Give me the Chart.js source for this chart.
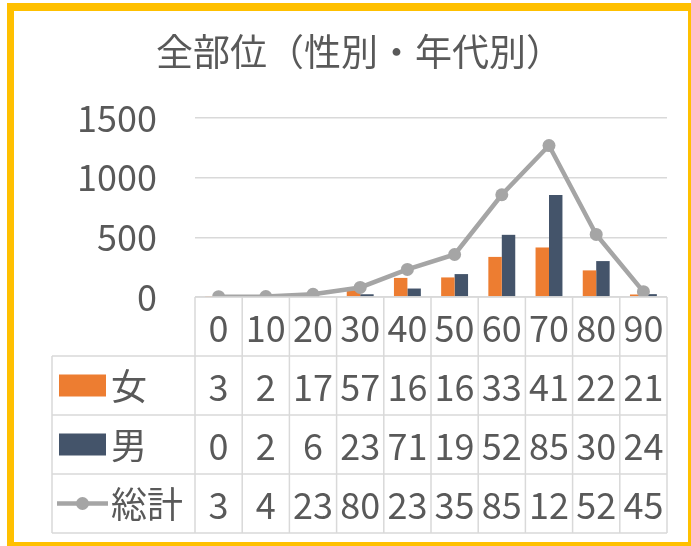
<!DOCTYPE html>
<html>
<head>
<meta charset="utf-8">
<script src="https://cdn.jsdelivr.net/npm/chart.js@4"></script>
<style>
  html, body { margin: 0; padding: 0; background: #fff; }
  #frame {
    position: absolute; left: 7px; top: 3px; width: 684px; height: 543px;
    box-sizing: border-box; border-style: solid; border-color: #FFC000;
    border-width: 8px 3px 4px 7px;
  }
  #chart { position: absolute; left: 0; top: 0; }
</style>
</head>
<body>
<div id="frame"></div>
<canvas id="chart" width="691" height="546"></canvas>
<script>
// data
const chartTitle = '全部位（性別・年代別）';
const ageGroups = ['0', '10', '20', '30', '40', '50', '60', '70', '80', '90'];
const femaleCounts = [3, 2, 17, 57, 160, 164, 336, 415, 223, 21];
const maleCounts = [0, 2, 6, 23, 71, 192, 521, 854, 301, 24];
const totalCounts = [3, 4, 23, 80, 231, 356, 857, 1269, 524, 45];
const yTicks = [0, 500, 1000, 1500];

const TEXT = '#595959';
const GRID = '#D9D9D9';
const FONT = "'Noto Sans CJK JP', 'Noto Sans', sans-serif";

Chart.defaults.font.family = FONT;
Chart.defaults.color = TEXT;

// title drawn by hand so it can sit a bit right of the canvas centre, like the original
const titleText = {
    id: 'titleText',
    afterDraw(chart) {
        const { ctx } = chart;
        ctx.save();
        ctx.fillStyle = TEXT;
        ctx.font = '37px ' + FONT;
        ctx.textAlign = 'left';
        ctx.textBaseline = 'middle';
        ctx.fillText(chartTitle, 156, 52);
        ctx.restore();
    }
};

// data table under the plot (Excel style), columns follow the x scale
const dataTable = {
    id: 'dataTable',
    afterDraw(chart) {
        const { ctx, chartArea: { left, right, bottom }, scales: { x } } = chart;
        const rowH = 59;
        const colW = (right - left) / ageGroups.length;
        const tableLeft = 52;
        const rows = chart.data.datasets;

        ctx.save();
        ctx.strokeStyle = GRID;
        ctx.lineWidth = 1.5;
        ctx.beginPath();
        ctx.moveTo(left, bottom); ctx.lineTo(right, bottom);
        for (let k = 1; k <= 4; k++) {
            ctx.moveTo(tableLeft, bottom + rowH * k);
            ctx.lineTo(right, bottom + rowH * k);
        }
        for (let i = 0; i <= ageGroups.length; i++) {
            ctx.moveTo(left + colW * i, bottom);
            ctx.lineTo(left + colW * i, bottom + rowH * 4);
        }
        ctx.moveTo(tableLeft, bottom + rowH);
        ctx.lineTo(tableLeft, bottom + rowH * 4);
        ctx.stroke();

        ctx.fillStyle = TEXT;
        ctx.font = '36px ' + FONT;
        ctx.textAlign = 'center';
        ctx.textBaseline = 'middle';
        ageGroups.forEach((lab, i) => {
            ctx.fillText(lab, x.getPixelForValue(i), bottom + rowH / 2 + 2);
        });

        rows.forEach((ds, r) => {
            const cy = bottom + rowH * (r + 1.5);
            ctx.textAlign = 'center';
            ctx.fillStyle = TEXT;
            ds.data.forEach((v, i) => {
                // cells are too narrow, only the first two characters show
                ctx.fillText(String(v).slice(0, 2), x.getPixelForValue(i), cy + 2);
            });
            // legend key
            if (ds.type === 'line') {
                ctx.strokeStyle = ds.borderColor;
                ctx.lineWidth = ds.borderWidth;
                ctx.beginPath();
                ctx.moveTo(57, cy); ctx.lineTo(108, cy);
                ctx.stroke();
                ctx.fillStyle = ds.borderColor;
                ctx.beginPath();
                ctx.arc(82.5, cy, 6.5, 0, Math.PI * 2);
                ctx.fill();
            } else {
                ctx.fillStyle = ds.backgroundColor;
                ctx.fillRect(59, cy - 11, 47, 22);
            }
            ctx.fillStyle = TEXT;
            ctx.textAlign = 'left';
            ctx.fillText(ds.label, 111, cy + 1);
        });
        ctx.restore();
    }
};

const ctx = document.getElementById('chart').getContext('2d');
new Chart(ctx, {
    type: 'bar',
    data: {
        labels: ageGroups,
        datasets: [
            {
                label: '女',
                data: femaleCounts,
                backgroundColor: '#ED7D31',
                categoryPercentage: 0.57,
                barPercentage: 1,
                order: 2
            },
            {
                label: '男',
                data: maleCounts,
                backgroundColor: '#44546A',
                categoryPercentage: 0.57,
                barPercentage: 1,
                order: 2
            },
            {
                label: '総計',
                data: totalCounts,
                type: 'line',
                borderColor: '#A5A5A5',
                backgroundColor: '#A5A5A5',
                borderWidth: 4.5,
                pointRadius: 6.5,
                pointBorderWidth: 0,
                pointBackgroundColor: '#A5A5A5',
                tension: 0,
                order: 1
            }
        ]
    },
    options: {
        responsive: false,
        animation: false,
        layout: { padding: { left: 0, right: 24, top: 118, bottom: 249 } },
        scales: {
            x: { display: false },
            y: {
                min: 0,
                max: 1500,
                afterBuildTicks: (scale) => { scale.ticks = yTicks.map(v => ({ value: v })); },
                afterFit: (scale) => { scale.width = 195; },
                border: { display: false },
                grid: { color: GRID, lineWidth: 1.5, drawTicks: false },
                ticks: {
                    padding: 38,
                    color: TEXT,
                    font: { size: 36 },
                    callback: (v) => String(v)
                }
            }
        },
        plugins: {
            legend: { display: false },
            tooltip: { enabled: false },
            title: { display: false }
        }
    },
    plugins: [dataTable, titleText]
});
</script>
</body>
</html>
